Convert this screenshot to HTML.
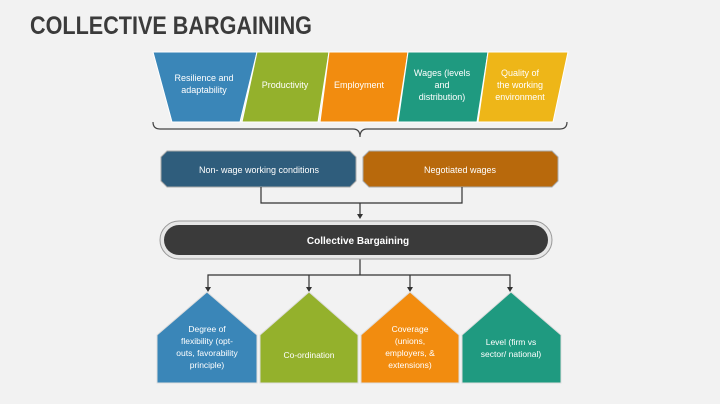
<!DOCTYPE html>
<html><head><style>body{margin:0;background:#f2f2f2}svg{display:block}</style></head><body>
<svg width="720" height="404" viewBox="0 0 720 404" xmlns="http://www.w3.org/2000/svg" font-family="Liberation Sans, sans-serif">
<rect width="720" height="404" fill="#f2f2f2"/>
<text x="30" y="34" font-size="25" font-weight="bold" fill="#3b3b3b" textLength="282" lengthAdjust="spacingAndGlyphs">COLLECTIVE BARGAINING</text>
<g stroke="#fff" stroke-width="1">
<polygon points="153,52 257,52 240,122 172,122" fill="#3a86b8"/>
<polygon points="257,52 329,52 318,122 242,122" fill="#94b12c"/>
<polygon points="329,52 408,52 397,122 320,122" fill="#f28c0f"/>
<polygon points="408,52 488,52 477,122 398,122" fill="#1f9a80"/>
<polygon points="488,52 568,52 553,122 478,122" fill="#eeb618"/>
</g>
<g fill="#fff" font-size="9" text-anchor="middle">
<text x="204" y="81">Resilience and</text><text x="204" y="93">adaptability</text>
<text x="285" y="88">Productivity</text>
<text x="359" y="88">Employment</text>
<text x="442" y="76">Wages (levels</text><text x="442" y="88">and</text><text x="442" y="100">distribution)</text>
<text x="520" y="76">Quality of</text><text x="520" y="88">the working</text><text x="520" y="100">environment</text>
</g>
<path d="M153,122 Q153,129 160,129 L353,129 Q360,129 360,137 Q360,129 367,129 L560,129 Q567,129 567,122" fill="none" stroke="#444" stroke-width="1.2"/>
<polygon points="167,151 350,151 356,157 356,181 350,187 167,187 161,181 161,157" fill="#2f5d7c" stroke="#aaa"/>
<polygon points="369,151 552,151 558,157 558,181 552,187 369,187 363,181 363,157" fill="#b8690c" stroke="#aaa"/>
<text x="259" y="173" fill="#fff" font-size="9" text-anchor="middle">Non- wage working conditions</text>
<text x="460" y="173" fill="#fff" font-size="9" text-anchor="middle">Negotiated wages</text>
<g stroke="#333" stroke-width="1.2" fill="none">
<path d="M261,187 V203 H462 V187 M360,203 V215"/>
<path d="M360,258 V275 M208,288 V275 H510 V288 M309,275 V288 M410,275 V288"/>
</g>
<g fill="#333">
<polygon points="357,214 363,214 360,219"/>
<polygon points="205,287 211,287 208,292"/><polygon points="306,287 312,287 309,292"/>
<polygon points="407,287 413,287 410,292"/><polygon points="507,287 513,287 510,292"/>
</g>
<rect x="160" y="221" width="392" height="38" rx="19" fill="#e6e6e6" stroke="#999"/>
<rect x="164" y="225" width="384" height="30" rx="15" fill="#3a3a3a"/>
<text x="358" y="244" fill="#fff" font-size="10" font-weight="bold" text-anchor="middle">Collective Bargaining</text>
<g stroke="#ddd" stroke-width="1">
<polygon points="207,292 257,335 257,383 157,383 157,335" fill="#3a86b8"/>
<polygon points="309,292 358,335 358,383 260,383 260,335" fill="#94b12c"/>
<polygon points="410,292 459,335 459,383 361,383 361,335" fill="#f28c0f"/>
<polygon points="511,292 561,335 561,383 462,383 462,335" fill="#1f9a80"/>
</g>
<g fill="#fff" font-size="8.5" text-anchor="middle">
<text x="207" y="332">Degree of</text><text x="207" y="344">flexibility (opt-</text><text x="207" y="356">outs, favorability</text><text x="207" y="368">principle)</text>
<text x="309" y="358">Co-ordination</text>
<text x="410" y="332">Coverage</text><text x="410" y="344">(unions,</text><text x="410" y="356">employers, &amp;</text><text x="410" y="368">extensions)</text>
<text x="511" y="345">Level (firm vs</text><text x="511" y="357">sector/ national)</text>
</g>
</svg>
</body></html>
